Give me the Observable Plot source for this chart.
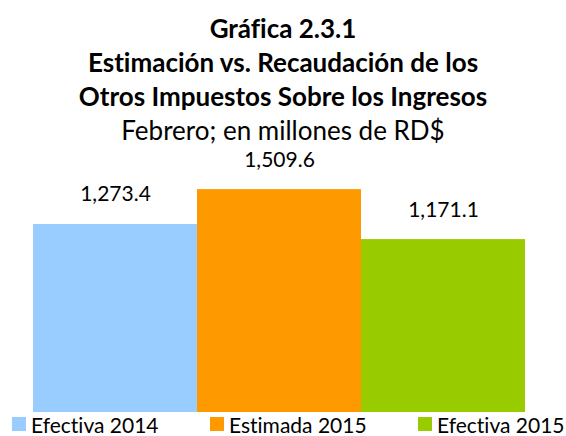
<!DOCTYPE html>
<html>
<head>
<meta charset="utf-8">
<script src="https://cdn.jsdelivr.net/npm/d3@7"></script>
<script src="https://cdn.jsdelivr.net/npm/@observablehq/plot@0.6"></script>
<style>
  html, body { margin: 0; padding: 0; background: #fff; }
  body { width: 566px; height: 436px; overflow: hidden; font-family: Lato, "Open Sans", sans-serif; color: #000; font-variant-ligatures: none; }
  #title { height: 140px; text-align: center; padding-top: 11px; box-sizing: border-box; }
  #title .b { font-weight: bold; font-size: 26px; line-height: 34px; }
  #title .s { font-size: 26px; line-height: 34px; }
  #chart svg { display: block; overflow: visible; }
  #legend { position: relative; height: 24px; font-size: 21px; }
  #legend .item { position: absolute; top: 0; display: flex; align-items: center; height: 24px; white-space: nowrap; }
  #legend .sw { width: 14px; height: 14px; margin-right: 5px; }
</style>
</head>
<body>
<div id="title">
  <div class="b">Gráfica 2.3.1</div>
  <div class="b">Estimación vs. Recaudación de los</div>
  <div class="b">Otros Impuestos Sobre los Ingresos</div>
  <div class="s">Febrero; en millones de RD$</div>
</div>
<div id="chart"></div>
<div id="legend"></div>
<script>
const categories = ["Efectiva 2014", "Estimada 2015", "Efectiva 2015"];
const values = [1273.4, 1509.6, 1171.1];
const labels = ["1,273.4", "1,509.6", "1,171.1"];
const colors = ["#99CCFF", "#FF9900", "#99CC00"];

const data = categories.map((c, i) => ({cat: c, value: values[i], label: labels[i]}));

const plot = Plot.plot({
  width: 566,
  height: 272,
  marginLeft: 32,
  marginRight: 41,
  marginTop: 21,
  marginBottom: 0,
  x: {domain: categories, padding: 0, axis: null},
  y: {domain: [0, 1700], axis: null},
  color: {domain: categories, range: colors},
  style: {fontFamily: "Lato, 'Open Sans', sans-serif", background: "transparent"},
  marks: [
    Plot.barY(data, {x: "cat", y: "value", fill: "cat", insetLeft: 0, insetRight: 0}),
    Plot.text(data, {x: "cat", y: "value", text: "label", dy: -23, lineAnchor: "bottom", fontSize: 21, fill: "#000"})
  ]
});
document.getElementById("chart").appendChild(plot);

const legend = document.getElementById("legend");
const lefts = [12, 210, 418];
categories.forEach((c, i) => {
  const item = document.createElement("div");
  item.className = "item";
  item.style.left = lefts[i] + "px";
  const sw = document.createElement("span");
  sw.className = "sw";
  sw.style.background = colors[i];
  const t = document.createElement("span");
  t.textContent = c;
  item.appendChild(sw);
  item.appendChild(t);
  legend.appendChild(item);
});
</script>
</body>
</html>
